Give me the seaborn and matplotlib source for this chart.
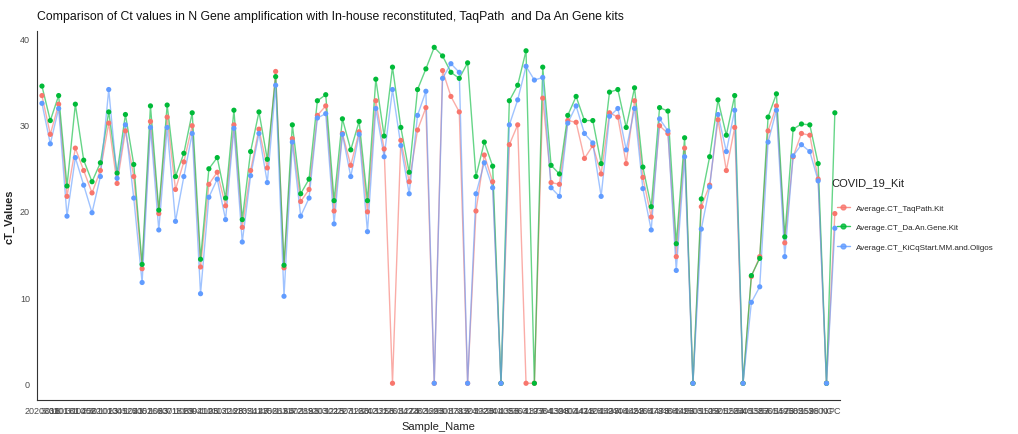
import pandas as pd
import matplotlib
matplotlib.use("Agg")
import matplotlib.pyplot as plt
from matplotlib.lines import Line2D
import seaborn as sns

# -----------------------------
# Data
# -----------------------------
samples = [
    "2020301", "3018", "3101", "10181", "3010", "10452", "2032", "30101",
    "1013", "2045", "30125", "1041", "2052", "30168", "1063", "2071",
    "30181", "1089", "2094", "30210", "1105", "2113", "30226", "1128",
    "2135", "30241", "1147", "2156", "30263", "1164", "2172", "30285",
    "1191", "2203", "30302", "1215", "2227", "30316", "1230", "2242",
    "30331", "1256", "2261", "30347", "1274", "2282", "30360", "1293",
    "2301", "30378", "1312", "2324", "30392", "1338", "2341", "30405",
    "1356", "2363", "30419", "1377", "2384", "30430", "1398", "2402",
    "30447", "1411", "2425", "30459", "1437", "2446", "30462", "1452",
    "2465", "30478", "1473", "2488", "30491", "1496", "2503", "30510",
    "1519", "2521", "30526", "1534", "2540", "30538", "1557", "2561",
    "30549", "1576", "2582", "30563", "1598", "2600", "NC", "PC",
]

taqpath = [
    33.4, 28.9, 32.4, 21.7, 27.3, 24.7, 22.1, 24.7, 30.2, 23.2, 29.3, 24.0,
    13.3, 30.4, 19.7, 30.9, 22.5, 25.7, 29.9, 13.5, 23.1, 24.5, 20.6, 30.0,
    18.1, 24.7, 29.5, 25.0, 36.2, 13.4, 28.4, 21.1, 22.5, 31.1, 32.2, 20.0,
    29.0, 25.3, 29.2, 19.9, 32.8, 27.2, 0.0, 28.2, 23.4, 29.4, 32.0, 0.0,
    36.3, 33.3, 31.5, 0.0, 20.0, 26.5, 23.4, 0.0, 27.7, 30.0, 0.0, 0.0,
    33.1, 23.3, 23.1, 30.5, 30.3, 26.1, 27.6, 24.3, 31.4, 30.9, 25.5, 32.8,
    23.9, 19.3, 29.9, 29.0, 14.7, 27.3, 0.0, 20.5, 23.0, 30.6, 24.7, 29.7,
    0.0, 12.4, 14.7, 29.3, 32.2, 16.3, 26.3, 29.0, 28.8, 23.7, 0.0, 19.7,
]

da_an_gene = [
    34.5, 30.5, 33.4, 22.9, 32.4, 25.9, 23.4, 25.6, 31.5, 24.4, 31.2, 25.4,
    13.8, 32.2, 20.1, 32.3, 24.0, 26.7, 31.4, 14.4, 24.9, 26.2, 21.5, 31.7,
    19.0, 26.9, 31.5, 26.0, 35.6, 13.7, 30.0, 22.0, 23.7, 32.8, 33.5, 21.2,
    30.7, 27.1, 30.4, 21.2, 35.3, 28.7, 36.7, 29.7, 24.5, 34.1, 36.5, 39.0,
    38.0, 36.1, 35.4, 37.2, 24.0, 28.0, 25.2, 0.0, 32.8, 34.6, 38.6, 0.0,
    36.7, 25.3, 24.3, 31.1, 33.3, 30.5, 30.5, 25.5, 33.8, 34.1, 29.7, 34.3,
    25.1, 20.5, 32.0, 31.6, 16.2, 28.5, 0.0, 21.4, 26.3, 32.9, 28.8, 33.4,
    0.0, 12.5, 14.5, 30.9, 33.6, 17.0, 29.5, 30.1, 30.0, 25.5, 0.0, 31.4,
]

kicqstart = [
    32.5, 27.8, 31.9, 19.4, 26.2, 23.0, 19.8, 24.0, 34.1, 23.8, 30.0, 21.5,
    11.7, 29.7, 17.8, 29.7, 18.8, 24.0, 29.0, 10.4, 21.6, 23.7, 19.0, 29.6,
    16.4, 24.1, 29.0, 23.3, 34.6, 10.1, 28.0, 19.4, 21.5, 30.8, 31.3, 18.5,
    28.9, 24.0, 28.9, 17.6, 31.9, 26.3, 34.1, 27.6, 22.0, 31.1, 33.9, 0.0,
    35.4, 37.1, 36.1, 0.0, 22.0, 25.6, 22.7, 0.0, 30.0, 32.9, 36.8, 35.2,
    35.5, 22.7, 21.7, 30.2, 32.2, 29.0, 27.9, 21.7, 31.0, 31.9, 27.1, 31.9,
    22.6, 17.8, 30.7, 29.3, 13.1, 26.3, 0.0, 17.9, 22.8, 31.2, 26.9, 31.7,
    0.0, 9.4, 11.2, 28.0, 31.7, 14.7, 26.4, 27.7, 26.9, 23.5, 0.0, 18.0,
]

kits = [
    "Average.CT_TaqPath.Kit",
    "Average.CT_Da.An.Gene.Kit",
    "Average.CT_KiCqStart.MM.and.Oligos",
]
kit_colors = ["#F8766D", "#00BA38", "#619CFF"]

# long format table for seaborn
wide = pd.DataFrame({
    "Sample_Name": samples,
    kits[0]: taqpath,
    kits[1]: da_an_gene,
    kits[2]: kicqstart,
})
wide["pos"] = range(len(wide))
df = wide.melt(id_vars=["Sample_Name", "pos"], var_name="COVID_19_Kit",
               value_name="cT_Values")
palette = dict(zip(kits, kit_colors))

# -----------------------------
# Plot
# -----------------------------
sns.set_style("white")
plt.rcParams["font.family"] = ["Liberation Sans", "DejaVu Sans"]

fig = plt.figure(figsize=(10.18, 4.35), dpi=100)
ax = fig.add_axes([0.0363, 0.078, 0.7887, 0.8495])

sns.lineplot(data=df, x="pos", y="cT_Values", hue="COVID_19_Kit",
             hue_order=kits, palette=palette, sort=False, estimator=None,
             linewidth=1.0, alpha=0.6, legend=False, ax=ax)
sns.scatterplot(data=df, x="pos", y="cT_Values", hue="COVID_19_Kit",
                hue_order=kits, palette=palette, s=14, linewidth=0,
                legend=False, ax=ax, zorder=3)

n = len(samples)
ax.set_xlim(-0.6, n - 1 + 0.6)
ax.set_ylim(-1.95, 40.95)
ax.set_yticks([0, 10, 20, 30, 40])
ax.set_xticks(range(n))
ax.set_xticklabels(samples)

ax.tick_params(axis="x", labelsize=6.5, colors="#4D4D4D", length=3,
               width=0.6, pad=1.5)
ax.tick_params(axis="y", labelsize=6.5, colors="#4D4D4D", length=3,
               width=0.6, pad=2)
for side in ["top", "right"]:
    ax.spines[side].set_visible(False)
for side in ["left", "bottom"]:
    ax.spines[side].set_color("#333333")
    ax.spines[side].set_linewidth(0.8)

ax.set_xlabel("Sample_Name", fontsize=8, color="#222222", labelpad=4)
ax.set_ylabel("cT_Values", fontsize=8, color="#222222", fontweight="bold",
              labelpad=4)
ax.set_title("Comparison of Ct values in N Gene amplification with "
             "In-house reconstituted, TaqPath  and Da An Gene kits",
             loc="left", fontsize=8.8, color="#111111", pad=8)

# legend outside on the right, title placed by hand
fig.text(0.817, 1 - 183 / 435, "COVID_19_Kit", fontsize=8,
         color="#222222", ha="left", va="center")
handles = [
    Line2D([0], [0], color=c, lw=1.0, marker="o", markersize=3.5, alpha=0.8)
    for c in kit_colors
]
fig.legend(handles, kits, loc="upper left",
           bbox_to_anchor=(0.815, 1 - 198 / 435), frameon=False,
           fontsize=5.8, handlelength=1.6, labelspacing=1.45)

plt.savefig("out.png", dpi=100)
plt.close()
